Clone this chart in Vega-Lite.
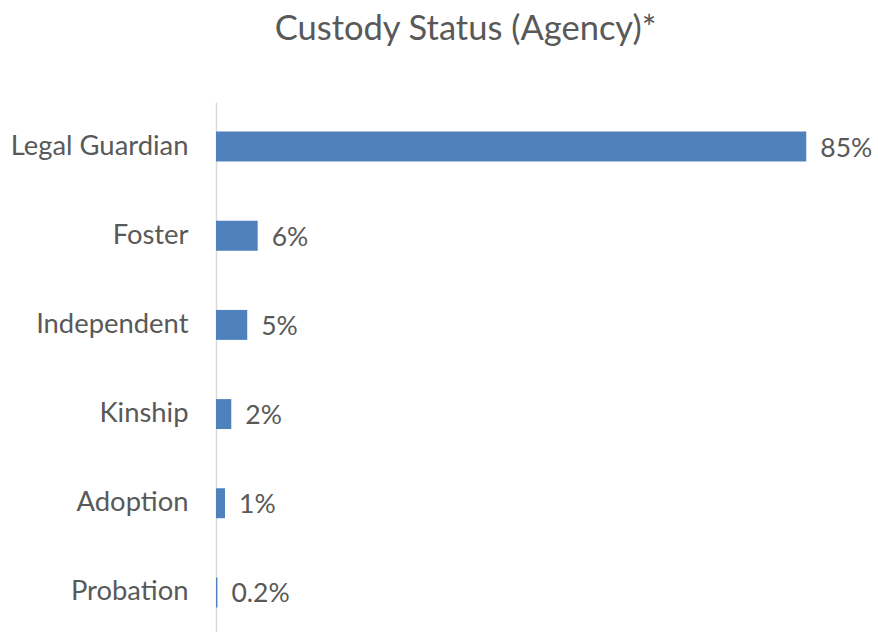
{
  "$schema": "https://vega.github.io/schema/vega-lite/v6.json",
  "width": 625,
  "height": 535,
  "autosize": {"type": "none"},
  "padding": {"left": 216, "top": 102, "right": 37, "bottom": 0},
  "background": "white",
  "title": {
    "text": "Custody Status (Agency)*",
    "fontSize": 34.5,
    "font": "Lato",
    "fontWeight": "normal",
    "color": "#595959",
    "anchor": "middle",
    "frame": "group",
    "dx": -63,
    "offset": 55
  },
  "data": {
    "values": [
      {"status": "Legal Guardian", "pct": 0.85, "label": "85%"},
      {"status": "Foster", "pct": 0.06, "label": "6%"},
      {"status": "Independent", "pct": 0.045, "label": "5%"},
      {"status": "Kinship", "pct": 0.022, "label": "2%"},
      {"status": "Adoption", "pct": 0.013, "label": "1%"},
      {"status": "Probation", "pct": 0.002, "label": "0.2%"}
    ]
  },
  "encoding": {
    "y": {
      "field": "status",
      "type": "nominal",
      "sort": null,
      "scale": {"paddingInner": 0.664, "paddingOuter": 0.332},
      "axis": {
        "title": null,
        "ticks": false,
        "labelPadding": 28,
        "labelFontSize": 27.4,
        "labelFont": "Lato",
        "labelColor": "#595959",
        "domainColor": "#d9d9d9",
        "domainWidth": 1.5
      }
    },
    "x": {
      "field": "pct",
      "type": "quantitative",
      "scale": {"domain": [0, 0.9], "nice": false},
      "axis": null
    }
  },
  "layer": [
    {"mark": {"type": "bar", "color": "#4f81bd"}},
    {
      "mark": {"type": "text", "align": "left", "dx": 14, "dy": 2, "fontSize": 26.5, "font": "Lato", "color": "#595959"},
      "encoding": {"text": {"field": "label"}}
    }
  ],
  "config": {"view": {"stroke": null}}
}
